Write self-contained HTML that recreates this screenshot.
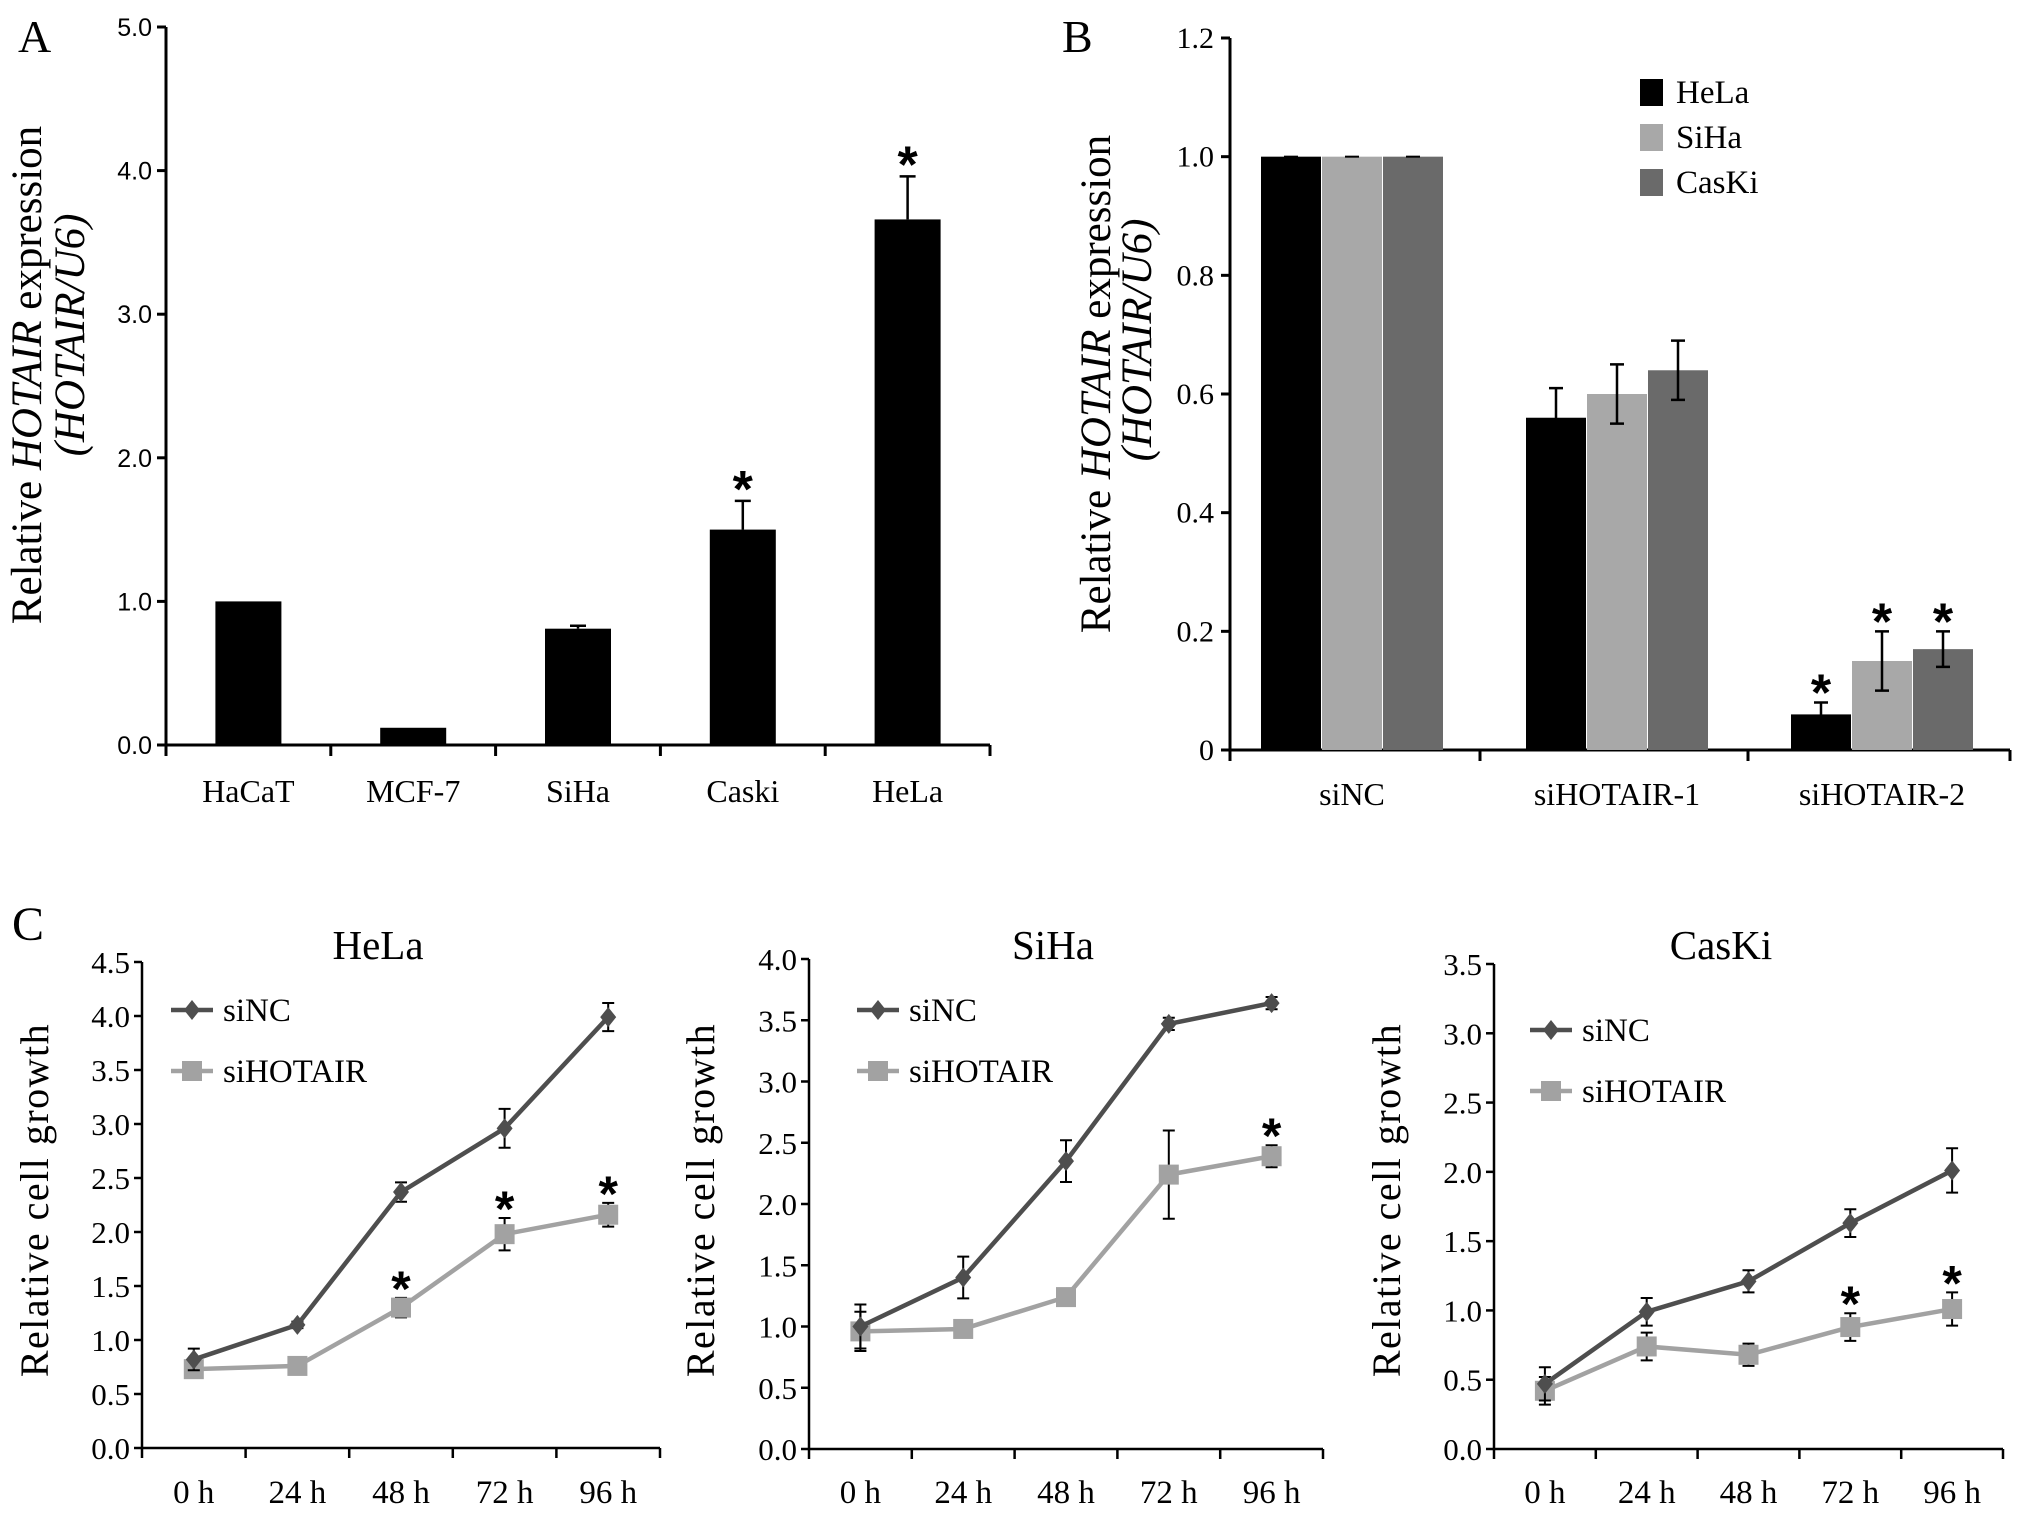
<!DOCTYPE html>
<html><head><meta charset="utf-8"><style>
html,body{margin:0;padding:0;background:#fff;}
svg{display:block;}
text{font-family:"Liberation Serif",serif;fill:#000;}
.nar{font-family:"Liberation Sans Narrow","Liberation Sans",sans-serif;}
.star{font-family:"Liberation Sans",sans-serif;font-weight:bold;}
</style></head><body>
<svg id="fig" width="2031" height="1514" viewBox="0 0 2031 1514" xmlns="http://www.w3.org/2000/svg">
<text x="18" y="52" font-size="46">A</text>
<text x="1062" y="52" font-size="46">B</text>
<text x="12" y="940" font-size="48">C</text>
<g id="gA"></g>
<g id="gB"></g>
<g id="gC"></g>
</svg>
<script>
// Panel A data
const aCategories = ["HaCaT","MCF-7","SiHa","Caski","HeLa"];
const aValues = [1.0, 0.12, 0.81, 1.50, 3.66];
const aErrors = [0, 0, 0.02, 0.20, 0.30];
const aStars = [false,false,false,true,true];
const aTicks = ["0.0","1.0","2.0","3.0","4.0","5.0"];
// Panel B data
const bGroups = ["siNC","siHOTAIR-1","siHOTAIR-2"];
const bSeries = ["HeLa","SiHa","CasKi"];
const bHeLa = [1.0, 0.56, 0.06];
const bSiHa = [1.0, 0.60, 0.15];
const bCasKi = [1.0, 0.64, 0.17];
const bErrHeLa = [0, 0.05, 0.02];
const bErrSiHa = [0, 0.05, 0.05];
const bErrCasKi = [0, 0.05, 0.03];
const bStarGroup = [false,false,true];
const bTicks = ["0","0.2","0.4","0.6","0.8","1.0","1.2"];
// Panel C data
const cTimes = ["0 h","24 h","48 h","72 h","96 h"];
const helaNC = [0.82,1.14,2.37,2.96,3.99];
const helaNCerr = [0.10,0.03,0.09,0.18,0.13];
const helaSi = [0.73,0.76,1.30,1.98,2.16];
const helaSiErr = [0.05,0.04,0.09,0.15,0.11];
const helaStars = [false,false,true,true,true];
const helaTicks = ["0.0","0.5","1.0","1.5","2.0","2.5","3.0","3.5","4.0","4.5"];
const sihaNC = [1.00,1.40,2.35,3.47,3.64];
const sihaNCerr = [0.18,0.17,0.17,0.05,0.05];
const sihaSi = [0.96,0.98,1.24,2.24,2.39];
const sihaSiErr = [0.16,0.02,0.03,0.36,0.09];
const sihaStars = [false,false,false,false,true];
const sihaTicks = ["0.0","0.5","1.0","1.5","2.0","2.5","3.0","3.5","4.0"];
const caskiNC = [0.47,0.99,1.21,1.63,2.01];
const caskiNCerr = [0.12,0.10,0.08,0.10,0.16];
const caskiSi = [0.42,0.74,0.68,0.88,1.01];
const caskiSiErr = [0.10,0.10,0.08,0.10,0.12];
const caskiStars = [false,false,false,true,true];
const caskiTicks = ["0.0","0.5","1.0","1.5","2.0","2.5","3.0","3.5"];

const NS="http://www.w3.org/2000/svg";
function mk(parent, tag, attrs, txt){
  const e=document.createElementNS(NS,tag);
  for(const k in attrs) e.setAttribute(k,attrs[k]);
  if(txt!==undefined) e.textContent=txt;
  parent.appendChild(e); return e;
}

// ---------- Panel A ----------
(function(){
  const g=document.getElementById('gA');
  const x0=166, x1=990, y0=745, yTop=27, maxV=5;
  const yS=v=>y0-(v/maxV)*(y0-yTop);
  const step=(x1-x0)/aCategories.length;
  const xC=i=>x0+step*(i+0.5);
  let ax=mk(g,'path',{d:`M${x0},${yTop} V${y0} H${x1}`,stroke:'#000','stroke-width':3,fill:'none'});
   
  aTicks.forEach((t,i)=>{
    const v=parseFloat(t), y=yS(v);
    mk(g,'line',{x1:x0-9,x2:x0,y1:y,y2:y,stroke:'#000','stroke-width':3});
    const tx=mk(g,'text',{x:x0-14,y:y+9,'font-size':25,'text-anchor':'end',class:'nar'},t);
     
  });
  for(let i=0;i<=aCategories.length;i++){
    const x=x0+step*i; mk(g,'line',{x1:x,x2:x,y1:y0,y2:y0+11,stroke:'#000','stroke-width':3});
  }
  aCategories.forEach((c,i)=>{
    const cx=xC(i), w=66;
    const r=mk(g,'rect',{x:cx-w/2,y:yS(aValues[i]),width:w,height:y0-yS(aValues[i]),fill:'#000'});
     
    if(aErrors[i]>0){
      const ye=yS(aValues[i]+aErrors[i]);
      mk(g,'path',{d:`M${cx},${yS(aValues[i])} V${ye} M${cx-8},${ye} H${cx+8}`,stroke:'#000','stroke-width':2.5,fill:'none'});
    }
    if(aStars[i]){
      const s=mk(g,'text',{x:cx,y:yS(aValues[i]+aErrors[i])+6,'font-size':52,'text-anchor':'middle',class:'star'},'*');
       
    }
    const l=mk(g,'text',{x:cx,y:802,'font-size':32,'text-anchor':'middle'},c);
     
  });
  const yl=mk(g,'text',{transform:'translate(41,375) rotate(-90)','font-size':43,'text-anchor':'middle'});
   
  yl.innerHTML='Relative <tspan font-style="italic">HOTAIR</tspan> expression';
  const yl2=mk(g,'text',{transform:'translate(84,335) rotate(-90)','font-size':43,'text-anchor':'middle','font-style':'italic'},'(HOTAIR/U6)');
   
})();

// ---------- Panel B ----------
(function(){
  const g=document.getElementById('gB');
  const x0=1230, x1=2010, y0=750, yTop=38, maxV=1.2;
  const yS=v=>y0-(v/maxV)*(y0-yTop);
  const colors=['#000','#a8a8a8','#6a6a6a'];
  const vals=[bHeLa,bSiHa,bCasKi], errs=[bErrHeLa,bErrSiHa,bErrCasKi];
  const gx=i=>1352+265*i, w=60;
  mk(g,'path',{d:`M${x0},${yTop} V${y0} H${x1}`,stroke:'#000','stroke-width':3,fill:'none'});
  bTicks.forEach(t=>{
    const y=yS(parseFloat(t));
    mk(g,'line',{x1:x0-9,x2:x0,y1:y,y2:y,stroke:'#000','stroke-width':3});
    const tx=mk(g,'text',{x:x0-16,y:y+10,'font-size':30,'text-anchor':'end'},t);
     
  });
  [x0,1480,1748,x1].forEach(x=>mk(g,'line',{x1:x,x2:x,y1:y0,y2:y0+11,stroke:'#000','stroke-width':3}));
  bGroups.forEach((grp,i)=>{
    for(let s=0;s<3;s++){
      const cx=gx(i)+(s-1)*(w+1), v=vals[s][i];
      const r=mk(g,'rect',{x:cx-w/2,y:yS(v),width:w,height:y0-yS(v),fill:colors[s]});
       
      const e=errs[s][i];
      if(e>0){
        mk(g,'path',{d:`M${cx},${yS(v-e)} V${yS(v+e)} M${cx-7},${yS(v+e)} H${cx+7} M${cx-7},${yS(v-e)} H${cx+7}`,stroke:'#000','stroke-width':2.5,fill:'none'});
      } else {
        mk(g,'line',{x1:cx-7,x2:cx+7,y1:yS(v),y2:yS(v),stroke:'#000','stroke-width':2});
      }
      if(bStarGroup[i]){
        const st=mk(g,'text',{x:cx,y:yS(v+e)+8,'font-size':52,'text-anchor':'middle',class:'star'},'*');
         
      }
    }
    const l=mk(g,'text',{x:gx(i),y:805,'font-size':32,'text-anchor':'middle'},grp);
     
  });
  bSeries.forEach((s,i)=>{
    const y=92+45*i;
    const sw=mk(g,'rect',{x:1640,y:y-13,width:23,height:27,fill:colors[i]});
     
    const t=mk(g,'text',{x:1676,y:y+11,'font-size':33},s);
     
  });
  const yl=mk(g,'text',{transform:'translate(1110,384) rotate(-90)','font-size':43,'text-anchor':'middle'});
   
  yl.innerHTML='Relative <tspan font-style="italic">HOTAIR</tspan> expression';
  const yl2=mk(g,'text',{transform:'translate(1151,340) rotate(-90)','font-size':43,'text-anchor':'middle','font-style':'italic'},'(HOTAIR/U6)');
   
})();

// ---------- Panel C ----------
function lineChart(cfg){
  const g=document.getElementById('gC');
  const sub=mk(g,'g',{});
   
  const {x0,x1,y0,yTop,maxV}=cfg;
  const yS=v=>y0-(v/maxV)*(y0-yTop);
  const step=(x1-x0)/cTimes.length;
  const xS=i=>x0+step*(i+0.5);
  mk(sub,'path',{d:`M${x0},${yTop} V${y0} H${x1}`,stroke:'#000','stroke-width':2.5,fill:'none'});
  cfg.ticks.forEach(t=>{
    const y=yS(parseFloat(t));
    mk(sub,'line',{x1:x0-8,x2:x0,y1:y,y2:y,stroke:'#000','stroke-width':2.5});
    const tx=mk(sub,'text',{x:x0-12,y:y+11,'font-size':31,'text-anchor':'end'},t);
     
  });
  for(let i=0;i<=cTimes.length;i++){const x=x0+step*i; mk(sub,'line',{x1:x,x2:x,y1:y0,y2:y0+10,stroke:'#000','stroke-width':2.5});}
  cTimes.forEach((t,i)=>{
    const l=mk(sub,'text',{x:xS(i),y:1503,'font-size':33,'text-anchor':'middle'},t);
     
  });
  const series=[{v:cfg.si,e:cfg.siErr,c:'#a2a2a2',m:'sq',n:'sihotair'},{v:cfg.nc,e:cfg.ncErr,c:'#4e4e4e',m:'dia',n:'sinc'}];
  series.forEach(s=>{
    s.v.forEach((v,i)=>{
      const x=xS(i);
      mk(sub,'path',{d:`M${x},${yS(v-s.e[i])} V${yS(v+s.e[i])} M${x-6},${yS(v+s.e[i])} H${x+6} M${x-6},${yS(v-s.e[i])} H${x+6}`,stroke:'#000','stroke-width':2,fill:'none'});
    });
    const ln=mk(sub,'polyline',{points:s.v.map((v,i)=>xS(i)+','+yS(v)).join(' '),fill:'none',stroke:s.c,'stroke-width':4.5});
     
    s.v.forEach((v,i)=>{
      const x=xS(i), y=yS(v);
      let m;
      if(s.m==='sq') m=mk(sub,'rect',{x:x-10,y:y-10,width:20,height:20,fill:s.c});
      else m=mk(sub,'path',{d:`M${x},${y-10} L${x+8},${y} L${x},${y+10} L${x-8},${y} Z`,fill:s.c});
       
    });
  });
  cfg.stars.forEach((st,i)=>{
    if(!st) return;
    const top=cfg.si[i]+cfg.siErr[i];
    const s=mk(sub,'text',{x:xS(i),y:yS(top)+8,'font-size':50,'text-anchor':'middle',class:'star'},'*');
     
  });
  const tt=mk(sub,'text',{x:cfg.titleX,y:959,'font-size':41,'text-anchor':'middle'},cfg.title);
   
  const lx=cfg.legX;
  [[cfg.legY,'#4e4e4e','dia','siNC'],[cfg.legY+61,'#a2a2a2','sq','siHOTAIR']].forEach(([y,c,m,n])=>{
    mk(sub,'line',{x1:lx,x2:lx+42,y1:y,y2:y,stroke:c,'stroke-width':4.5});
    if(m==='sq') mk(sub,'rect',{x:lx+11,y:y-10,width:20,height:20,fill:c});
    else mk(sub,'path',{d:`M${lx+21},${y-10} L${lx+29},${y} L${lx+21},${y+10} L${lx+13},${y} Z`,fill:c});
    const t=mk(sub,'text',{x:lx+52,y:y+11,'font-size':33},n);
     
  });
  const yl=mk(sub,'text',{transform:`translate(${cfg.ylX},1200) rotate(-90)`,'font-size':40,'text-anchor':'middle','letter-spacing':'1.5'},'Relative cell growth');
   
}
lineChart({key:'hela',title:'HeLa',titleX:378,x0:142,x1:660,y0:1448,yTop:962,maxV:4.5,ticks:helaTicks,nc:helaNC,ncErr:helaNCerr,si:helaSi,siErr:helaSiErr,stars:helaStars,legX:171,legY:1010,ylX:48});
lineChart({key:'siha',title:'SiHa',titleX:1053,x0:809,x1:1323,y0:1449,yTop:959,maxV:4.0,ticks:sihaTicks,nc:sihaNC,ncErr:sihaNCerr,si:sihaSi,siErr:sihaSiErr,stars:sihaStars,legX:857,legY:1010,ylX:714});
lineChart({key:'caski',title:'CasKi',titleX:1721,x0:1494,x1:2003,y0:1449,yTop:964,maxV:3.5,ticks:caskiTicks,nc:caskiNC,ncErr:caskiNCerr,si:caskiSi,siErr:caskiSiErr,stars:caskiStars,legX:1530,legY:1030,ylX:1400});
</script>
</body></html>
